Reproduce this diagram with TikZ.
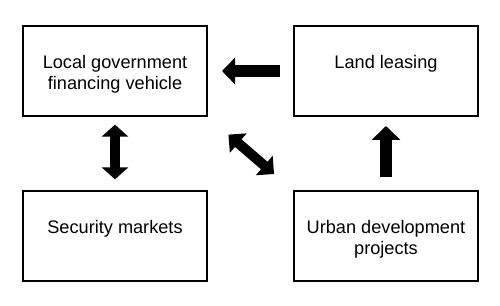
\documentclass[tikz,border=0pt]{standalone}
\usepackage{fontspec}
\setmainfont{Liberation Sans}
\usetikzlibrary{arrows.meta,calc,positioning}
\newcommand{\boxtext}[1]{\parbox[c][19pt][t]{110pt}{\centering #1}}

\begin{document}
\begin{tikzpicture}[
  font=\fontsize{10.9}{12.6}\selectfont,
  node distance=44pt and 51pt,
  box/.style={draw=black, line width=1.2pt, fill=white, inner sep=0pt,
    minimum width=110.4pt, minimum height=54pt},
  blk/.style={draw=black, line width=#1},
  blk/.default=7.2pt
]
\node[box] (lgfv) {\boxtext{Local government\\financing vehicle}};
\node[box, right=of lgfv] (land) {\boxtext{Land leasing}};
\node[box, below=of lgfv] (sec) {\boxtext{Security markets}};
\node[box, right=of sec] (urban) {\boxtext{Urban development\\projects}};
\useasboundingbox ($(lgfv.north west)+(-13.2pt,15pt)$) rectangle +(300pt,-183.6pt);
\draw[blk=7.6pt, -{Triangle[width=15.6pt,length=7.8pt]},
  shorten <=7.8pt, shorten >=8.4pt] (land.west) -- (lgfv.east);
\draw[blk=5.7pt, {Triangle[width=15.6pt,length=7.2pt]}-{Triangle[width=15.6pt,length=7.2pt]},
  shorten <=4.6pt, shorten >=6.6pt, xshift=2.4pt] (lgfv.south) -- (sec.north);
\draw[blk=7.2pt, -{Triangle[width=16.8pt,length=8.4pt]},
  shorten <=7.8pt, shorten >=5.4pt, xshift=1.5pt] (urban.north) -- (land.south);
\draw[blk=6pt, {Triangle[width=15pt,length=7.8pt]}-{Triangle[width=15pt,length=7.8pt]},
  shorten <=16.2pt, shorten >=15pt] (lgfv.south east) -- (urban.north west);
\end{tikzpicture}
\end{document}
